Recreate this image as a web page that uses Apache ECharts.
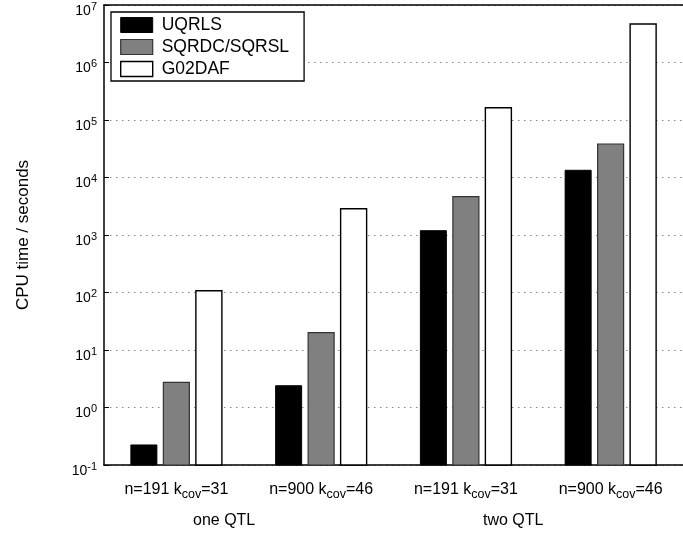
<!DOCTYPE html>
<html>
<head>
<meta charset="utf-8">
<script src="https://cdn.jsdelivr.net/npm/echarts@6/dist/echarts.min.js"></script>
<style>
  html, body { margin: 0; padding: 0; background: #fff; }
  #chart { width: 683px; height: 534px; }
</style>
</head>
<body>
<div id="chart"></div>
<script>
// Problem sizes (n, k_cov) and CPU times in seconds for each solver
const categories = ['n=191 k{sub|cov}=31', 'n=900 k{sub|cov}=46', 'n=191 k{sub|cov}=31', 'n=900 k{sub|cov}=46'];
const groupLabels = ['one QTL', 'two QTL'];
const seriesNames = ['UQRLS', 'SQRDC/SQRSL', 'G02DAF'];
const uqrls = [0.223, 2.39, 1188, 13340];
const sqrdc = [2.74, 20.0, 4640, 38260];
const g02daf = [107, 2865, 163600, 4680000];
const axisFloor = 0.1;   // log axis lower bound; bars grow from here
const axisCeil = 1e7;

const FONT = 'Liberation Sans, Arial, Helvetica, sans-serif';
const chart = echarts.init(document.getElementById('chart'), null, { renderer: 'canvas' });

const BAR_W = 26;
const BAR_STEP = 32.5;

const styles = [
  { color: '#000', borderColor: '#000', borderWidth: 1 },
  { color: '#808080', borderColor: '#333', borderWidth: 1.2 },
  { color: '#fff', borderColor: '#000', borderWidth: 1.4 }
];

// Grouped bars on a log scale, each drawn from the axis floor up to its value
function barSeries(idx, values) {
  return {
    type: 'custom',
    name: seriesNames[idx],
    xAxisIndex: 0,
    yAxisIndex: 0,
    itemStyle: styles[idx],
    encode: { x: 0, y: 1 },
    data: values.map((v, i) => [i, v]),
    renderItem: function (params, api) {
      const top = api.coord([api.value(0), api.value(1)]);
      const base = api.coord([api.value(0), axisFloor]);
      const cx = top[0] + (idx - 1) * BAR_STEP;
      return {
        type: 'rect',
        shape: { x: cx - BAR_W / 2, y: top[1], width: BAR_W, height: base[1] - top[1] },
        style: { fill: styles[idx].color, stroke: styles[idx].borderColor, lineWidth: styles[idx].borderWidth }
      };
    }
  };
}

chart.setOption({
  animation: false,
  backgroundColor: '#fff',
  textStyle: { fontFamily: FONT },
  grid: { left: 104, top: 5, right: -5, bottom: 69, containLabel: false },
  legend: {
    orient: 'vertical',
    left: 111,
    top: 12,
    padding: [4, 15, 3, 9],
    itemWidth: 32,
    itemHeight: 15,
    itemGap: 4,
    borderColor: '#000',
    borderWidth: 1.3,
    backgroundColor: '#fff',
    icon: 'rect',
    selectedMode: false,
    textStyle: { fontFamily: FONT, fontSize: 17.5, color: '#000', padding: [0, 0, 0, 4], lineHeight: 15 },
    data: seriesNames.map((n, i) => ({ name: n, itemStyle: styles[i] }))
  },
  xAxis: [
    {
      type: 'category',
      data: categories,
      position: 'bottom',
      axisLine: { lineStyle: { color: '#000', width: 1.5 } },
      axisTick: { inside: true, length: 5, alignWithLabel: true, lineStyle: { color: '#000' } },
      axisLabel: {
        interval: 0,
        margin: 13,
        color: '#000',
        fontFamily: FONT,
        fontSize: 16,
        rich: {
          sub: { fontSize: 12.5, fontFamily: FONT, color: '#000', padding: [10, 0, 0, 0] }
        }
      },
      splitLine: { show: false }
    },
    {
      type: 'category',
      data: categories,
      position: 'top',
      axisLine: { lineStyle: { color: '#000', width: 1.5 } },
      axisTick: { inside: true, length: 5, alignWithLabel: true, lineStyle: { color: '#000' } },
      axisLabel: { show: false },
      splitLine: { show: false }
    }
  ],
  yAxis: [
    {
      type: 'log',
      logBase: 10,
      min: axisFloor,
      max: axisCeil,
      splitNumber: 8,
      name: 'CPU time / seconds',
      nameLocation: 'middle',
      nameGap: 72,
      nameRotate: 90,
      nameTextStyle: { fontFamily: FONT, fontSize: 17, color: '#000' },
      axisLine: { show: true, lineStyle: { color: '#000', width: 1.5 } },
      axisTick: { show: true, inside: true, length: 5, lineStyle: { color: '#000' } },
      minorTick: { show: false },
      axisLabel: {
        margin: 7,
        color: '#000',
        fontFamily: FONT,
        fontSize: 14,
        padding: [12, 0, 0, 0],
        formatter: function (v) {
          const e = Math.round(Math.log10(v));
          return '10{sup|' + e + '}';
        },
        rich: {
          sup: { fontSize: 11, fontFamily: FONT, color: '#000', padding: [0, 0, 9, 0] }
        }
      },
      splitLine: { show: true, lineStyle: { color: '#8a8a8a', type: [1.5, 4.5], width: 1 } }
    }
  ],
  series: [barSeries(0, uqrls), barSeries(1, sqrdc), barSeries(2, g02daf)],
  graphic: [
    { type: 'text', left: 193, top: 513, style: { text: groupLabels[0], fontFamily: FONT, fontSize: 16, fill: '#000' } },
    { type: 'text', left: 483, top: 513, style: { text: groupLabels[1], fontFamily: FONT, fontSize: 16, fill: '#000' } }
  ]
});
</script>
</body>
</html>
